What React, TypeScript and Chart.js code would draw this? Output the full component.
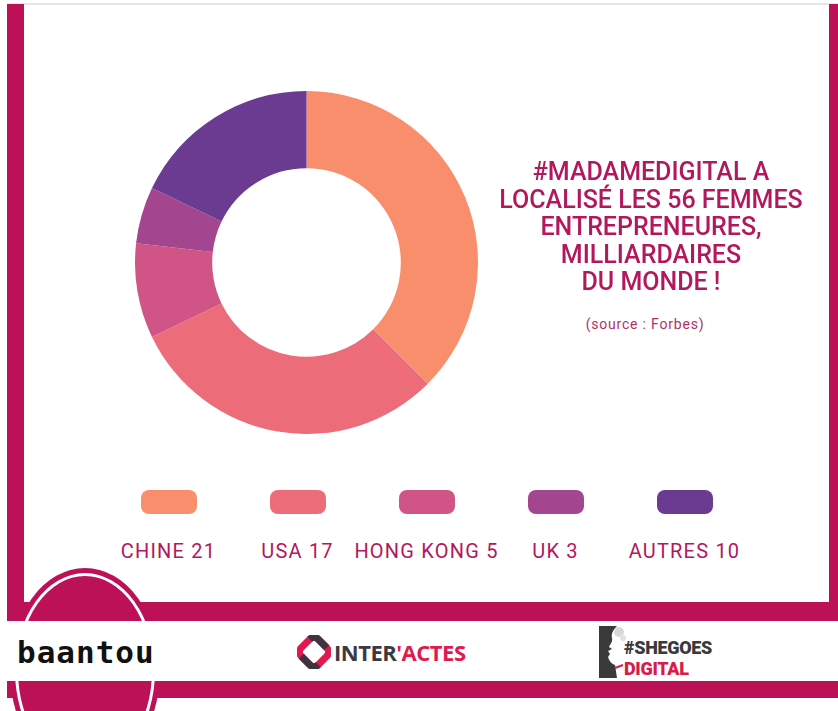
import React, { useEffect, useRef } from "react";
import { Chart, registerables } from "chart.js";

Chart.register(...registerables);

const categories = ["CHINE", "USA", "HONG KONG", "UK", "AUTRES"];
const values = [21, 17, 5, 3, 10];
const colors = ["#F98E6C", "#EC6C79", "#D05485", "#A4458F", "#6B3B91"];
const titleLines = [
  "#MADAMEDIGITAL A",
  "LOCALISÉ LES 56 FEMMES",
  "ENTREPRENEURES,",
  "MILLIARDAIRES",
  "DU MONDE !",
];
const sourceText = "(source : Forbes)";

const CRIMSON = "#BD1157";
const TEXT = "#B3175C";

function Donut() {
  const ref = useRef<HTMLCanvasElement | null>(null);
  useEffect(() => {
    if (!ref.current) return;
    const chart = new Chart(ref.current, {
      type: "doughnut",
      data: {
        labels: categories,
        datasets: [
          {
            data: values,
            backgroundColor: colors,
            borderWidth: 0,
            hoverOffset: 0,
          },
        ],
      },
      options: {
        responsive: true,
        maintainAspectRatio: false,
        animation: false,
        cutout: "55%",
        layout: { padding: 0 },
        plugins: {
          legend: { display: false },
          tooltip: { enabled: false },
          title: { display: false },
        },
      },
    });
    return () => chart.destroy();
  }, []);
  return (
    <div style={{ position: "absolute", left: 135, top: 91, width: 343, height: 343 }}>
      <canvas ref={ref} />
    </div>
  );
}

function InterActesIcon() {
  return (
    <svg width="34" height="34" viewBox="0 0 34 34" style={{ display: "block" }}>
      <g transform="translate(17 17) rotate(45)">
        <rect x="-12" y="-12" width="24" height="24" rx="6" fill="none" stroke="#E01A4F" strokeWidth="7" />
        <path d="M -12 -6 A 6 6 0 0 1 -6 -12 L 6 -12" fill="none" stroke="#3A3540" strokeWidth="7" />
        <path d="M 12 6 A 6 6 0 0 1 6 12 L -6 12" fill="none" stroke="#3A3540" strokeWidth="7" />
      </g>
    </svg>
  );
}

function SheGoesIcon() {
  return (
    <svg width="30" height="54" viewBox="0 0 30 54" style={{ display: "block" }}>
      <path
        d="M2 2 L20 2 C16 6 14 10 15 14 C16 18 13 20 12 23 L15 25 L11 27 L13 30 L11 33 C12 37 15 40 18 41 L20 54 L2 54 Z"
        fill="#3A3A3A"
      />
      <circle cx="22" cy="8" r="5" fill="#D8D8D8" />
      <circle cx="26" cy="14" r="3" fill="#E2E2E2" />
      <path d="M18 44 L26 41" stroke="#D81B48" strokeWidth="2" />
    </svg>
  );
}

export default function App() {
  useEffect(() => {
    document.body.style.margin = "0";
    document.body.style.background = "#FFFFFF";
  }, []);

  return (
    <div
      style={{
        position: "relative",
        width: 838,
        height: 711,
        overflow: "hidden",
        background: "#FFFFFF",
        fontFamily: "Roboto, 'Open Sans', sans-serif",
      }}
    >
      {/* top light line */}
      <div style={{ position: "absolute", left: 7, top: 3, width: 831, height: 2, background: "#E6E6E6" }} />
      {/* left bar */}
      <div style={{ position: "absolute", left: 7, top: 4, width: 17, height: 616, background: CRIMSON }} />
      {/* right bar */}
      <div style={{ position: "absolute", left: 829, top: 4, width: 9, height: 616, background: CRIMSON }} />
      {/* bottom band of frame */}
      <div style={{ position: "absolute", left: 7, top: 602, width: 831, height: 19, background: CRIMSON }} />
      {/* lower band */}
      <div style={{ position: "absolute", left: 7, top: 681, width: 831, height: 17, background: CRIMSON }} />

      {/* round badge */}
      <div
        style={{
          position: "absolute",
          left: 10,
          top: 568,
          width: 150,
          height: 206,
          borderRadius: "50%",
          background: CRIMSON,
        }}
      >
        <div
          style={{
            position: "absolute",
            left: 5,
            top: 5,
            right: 5,
            bottom: 5,
            borderRadius: "50%",
            border: "3px solid #FFFFFF",
          }}
        />
      </div>

      {/* logos strip */}
      <div style={{ position: "absolute", left: 5, top: 621, width: 833, height: 60, background: "#FFFFFF" }} />

      {/* baantou logo */}
      <div
        style={{
          position: "absolute",
          left: 17,
          top: 634,
          width: 156,
          height: 36,
          fontFamily: "'DejaVu Sans Mono', monospace",
          fontWeight: 700,
          fontSize: 31,
          letterSpacing: 1,
          color: "#111111",
          lineHeight: "36px",
          whiteSpace: "nowrap",
        }}
      >
        baantou
      </div>

      {/* INTER'ACTES logo */}
      <div style={{ position: "absolute", left: 297, top: 635, display: "flex", alignItems: "center" }}>
        <InterActesIcon />
        <div
          style={{
            marginLeft: 3,
            fontFamily: "'Open Sans', sans-serif",
            fontWeight: 700,
            fontSize: 22,
            letterSpacing: -0.5,
            lineHeight: "34px",
            whiteSpace: "nowrap",
          }}
        >
          <span style={{ color: "#3B3A44" }}>INTER</span>
          <span style={{ color: "#E01A4F" }}>'ACTES</span>
        </div>
      </div>

      {/* SHEGOES DIGITAL logo */}
      <div style={{ position: "absolute", left: 597, top: 624, display: "flex" }}>
        <SheGoesIcon />
        <div
          style={{
            marginLeft: -3,
            marginTop: 13,
            fontFamily: "Roboto, sans-serif",
            fontWeight: 900,
            fontSize: 18,
            lineHeight: "21px",
            letterSpacing: -0.3,
            whiteSpace: "nowrap",
          }}
        >
          <div style={{ color: "#3A3A3A" }}>#SHEGOES</div>
          <div style={{ color: "#D81B48" }}>DIGITAL</div>
        </div>
      </div>

      <Donut />

      {/* title */}
      <div
        style={{
          position: "absolute",
          left: 461,
          top: 158,
          width: 380,
          textAlign: "center",
          color: TEXT,
          fontFamily: "Roboto, sans-serif",
          fontWeight: 500,
          fontSize: 25,
          lineHeight: "27.5px",
        }}
      >
        {titleLines.map((l, i) => (
          <div key={i}>{l}</div>
        ))}
      </div>
      <div
        style={{
          position: "absolute",
          left: 545,
          top: 316,
          width: 200,
          textAlign: "center",
          color: "#B2306A",
          fontFamily: "Roboto, sans-serif",
          fontSize: 14,
          letterSpacing: 0.8,
        }}
      >
        {sourceText}
      </div>

      {/* legend */}
      <div style={{ position: "absolute", left: 104, top: 490, display: "flex" }}>
        {categories.map((c, i) => (
          <div
            key={c}
            style={{ width: 129, display: "flex", flexDirection: "column", alignItems: "center" }}
          >
            <div style={{ width: 56, height: 24, borderRadius: 8, background: colors[i] }} />
            <div
              style={{
                marginTop: 25,
                color: TEXT,
                fontFamily: "Roboto, sans-serif",
                fontSize: 20,
                letterSpacing: 1.2,
                whiteSpace: "nowrap",
                lineHeight: "24px",
              }}
            >
              {c} {values[i]}
            </div>
          </div>
        ))}
      </div>
    </div>
  );
}
